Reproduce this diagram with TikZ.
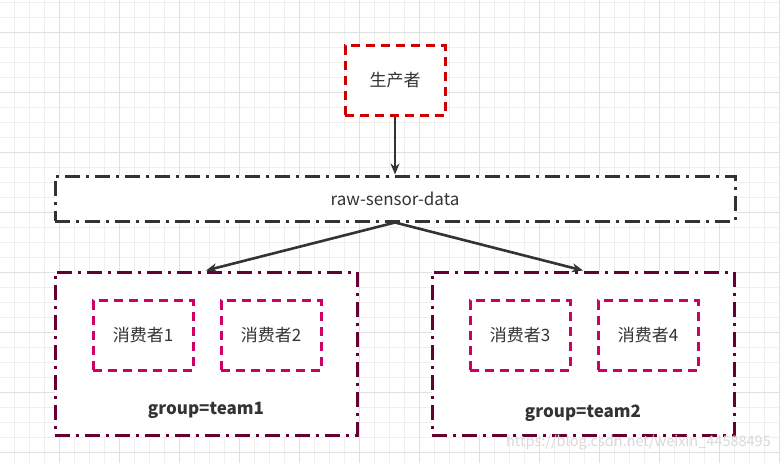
\documentclass[tikz,border=0pt]{standalone}
\usepackage{fontspec}
\setmainfont{Noto Sans CJK SC}
\usetikzlibrary{arrows.meta}
\definecolor{txt}{HTML}{333333}
\definecolor{prodred}{HTML}{CC0000}
\definecolor{consmag}{HTML}{CC0066}
\definecolor{grpmar}{HTML}{660033}
\definecolor{gridminor}{HTML}{EFEFEF}
\definecolor{gridmajor}{HTML}{E0E0E0}
\definecolor{linegray}{HTML}{333333}
\tikzset{
  dashbox/.style={draw, fill=white, line width=3pt, dash pattern=on 9pt off 6pt, inner sep=0pt, minimum width=100pt, minimum height=70pt, text=txt, font=\fontsize{17}{20}\selectfont},
  dotdashbox/.style={draw, fill=white, line width=3pt, dash pattern=on 15pt off 6pt on 3pt off 6pt, inner sep=0pt, text=txt, font=\fontsize{17}{20}\selectfont},
  grouplabel/.style={text=txt, font=\fontsize{17}{20}\selectfont\bfseries, inner sep=0pt},
  conn/.style={draw=linegray, line width=2.6pt, -{Stealth[length=11pt,width=9pt]}}
}
\begin{document}
\begin{tikzpicture}[x=1pt,y=-1pt]
\useasboundingbox (0,0) rectangle (780,463);
\fill[white] (0,0) rectangle (780,463);
% grid
\foreach \k in {0,...,51} {\draw[gridminor, line width=0.8pt] ({14.5+15*\k},0) -- ({14.5+15*\k},463);}
\foreach \k in {0,...,30} {\draw[gridminor, line width=0.8pt] (0,{2+15*\k}) -- (780,{2+15*\k});}
\foreach \k in {0,...,12} {\draw[gridmajor, line width=0.8pt] ({59.5+60*\k},0) -- ({59.5+60*\k},463);}
\foreach \k in {0,...,7} {\draw[gridmajor, line width=0.8pt] (0,{32+60*\k}) -- (780,{32+60*\k});}

% producer
\node[dashbox, draw=prodred] (prod) at (395,80.5) {生产者};
% topic
\node[dotdashbox, draw=linegray, minimum width=680pt, minimum height=45pt] (topic) at (395,198.5) {raw-sensor-data};
% groups
\node[dotdashbox, draw=grpmar, minimum width=302pt, minimum height=163pt] (g1) at (206,353.5) {};
\node[dotdashbox, draw=grpmar, minimum width=302pt, minimum height=163pt] (g2) at (583,353.5) {};
% consumers
\node[dashbox, draw=consmag] (c1) at (143,335.5) {消费者1};
\node[dashbox, draw=consmag] (c2) at (271,335.5) {消费者2};
\node[dashbox, draw=consmag] (c3) at (520,335.5) {消费者3};
\node[dashbox, draw=consmag] (c4) at (648,335.5) {消费者4};
% group labels
\node[grouplabel] (l1) at (206,410) {group=team1};
\node[grouplabel] (l2) at (583,413) {group=team2};
% connectors
\draw[conn] (prod.south) -- (topic.north);
\draw[conn] (topic.south) -- (g1.north);
\draw[conn] (topic.south) -- (g2.north);
% watermark
\node[text=black!15, font=\fontsize{14.5}{16}\selectfont, anchor=east, inner sep=0pt] (wm) at (771,443) {https://blog.csdn.net/weixin\_44588495};
\end{tikzpicture}
\end{document}
